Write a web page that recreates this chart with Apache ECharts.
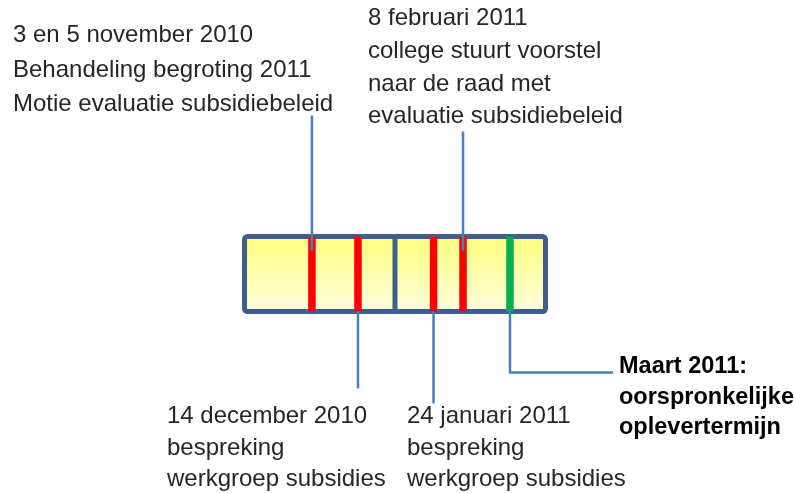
<!DOCTYPE html>
<html>
<head>
<meta charset="utf-8">
<title>Tijdlijn evaluatie subsidiebeleid</title>
<script src="https://cdn.jsdelivr.net/npm/echarts@6/dist/echarts.min.js"></script>
<style>
  html, body { margin: 0; padding: 0; background: #fff; }
  #main { width: 795px; height: 493px; }
</style>
</head>
<body>
<div id="main"></div>
<script>
// tijdlijn loopt van 0 tot 100 (links -> rechts in de balk)
var timelineRange = [0, 100];
var dividerPos = [50];

// gebeurtenissen op de tijdlijn
var eventPos = [22.4, 37.7, 62.8, 72.6, 88.2];
var eventDone = [true, true, true, true, false];   // rood = geweest, groen = gepland
var eventSide = ['top', 'bottom', 'bottom', 'top', 'bottom'];
var eventLabels = [
    ['3 en 5 november 2010', 'Behandeling begroting 2011', 'Motie evaluatie subsidiebeleid'],
    ['14 december 2010', 'bespreking', 'werkgroep subsidies'],
    ['24 januari 2011', 'bespreking', 'werkgroep subsidies'],
    ['8 februari 2011', 'college stuurt voorstel', 'naar de raad met', 'evaluatie subsidiebeleid'],
    ['Maart 2011:', 'oorspronkelijke', 'oplevertermijn']
];

// opmaak: lengte van de verbindingslijn en plaats van het label (pixels)
var layout = [
    { lead: 121, elbow: 0, lx: 13, ly: 18.5, lh: 34.5, bold: false },
    { lead: 77, elbow: 0, lx: 167, ly: 401, lh: 31.5, bold: false },
    { lead: 92, elbow: 0, lx: 407, ly: 401, lh: 31.5, bold: false },
    { lead: 105, elbow: 0, lx: 368, ly: 2.3, lh: 32.7, bold: false },
    { lead: 61, elbow: 103, lx: 619, ly: 351.5, lh: 30.5, bold: true }
];

var BORDER = '#3c5f8c';
var LEADER = '#4a7ebb';

var myChart = echarts.init(document.getElementById('main'));

function renderBox(params, api) {
    var p0 = api.coord([api.value(0), 0]);
    var p1 = api.coord([api.value(1), 1]);
    var children = [{
        type: 'rect',
        shape: { x: p0[0], y: p1[1], width: p1[0] - p0[0], height: p0[1] - p1[1], r: 3 },
        style: {
            fill: new echarts.graphic.LinearGradient(0, 0, 0, 1, [
                { offset: 0, color: '#ffff7a' },
                { offset: 1, color: '#ffffe0' }
            ]),
            stroke: BORDER,
            lineWidth: 5
        }
    }];
    dividerPos.forEach(function (d) {
        var x = api.coord([d, 0])[0];
        children.push({
            type: 'line',
            shape: { x1: x, y1: p1[1], x2: x, y2: p0[1] },
            style: { stroke: BORDER, lineWidth: 5 }
        });
    });
    return { type: 'group', children: children };
}

function renderEvent(params, api) {
    var i = params.dataIndex;
    var x = api.coord([api.value(0), 0])[0];
    var top = api.coord([0, 1])[1];
    var bottom = api.coord([0, 0])[1];
    var lay = layout[i];
    var pts;
    if (eventSide[i] === 'top') {
        pts = [[x, top - lay.lead], [x, top + 14]];
    } else {
        var yEnd = bottom + lay.lead;
        pts = [[x, bottom], [x, yEnd]];
        if (lay.elbow) pts.push([x + lay.elbow, yEnd]);
    }
    return {
        type: 'group',
        children: [
            {
                type: 'rect',
                shape: { x: x - 3.75, y: top, width: 7.5, height: bottom - top },
                style: { fill: eventDone[i] ? '#ff0000' : '#00b050' }
            },
            {
                type: 'polyline',
                shape: { points: pts },
                style: { stroke: LEADER, lineWidth: 2.5, fill: null }
            },
            {
                type: 'text',
                style: {
                    text: eventLabels[i].join('\n'),
                    x: lay.lx,
                    y: lay.ly,
                    align: 'left',
                    verticalAlign: 'top',
                    lineHeight: lay.lh,
                    fontFamily: 'Liberation Sans',
                    fontSize: lay.bold ? 23.5 : 24,
                    fontWeight: lay.bold ? 'bold' : 'normal',
                    fill: lay.bold ? '#000' : '#262626'
                }
            }
        ]
    };
}

var option = {
    backgroundColor: '#fff',
    animation: false,
    grid: { left: 244.5, right: 249.5, top: 236.5, bottom: 181.5 },
    xAxis: { type: 'value', min: timelineRange[0], max: timelineRange[1], show: false },
    yAxis: { type: 'value', min: 0, max: 1, show: false },
    series: [
        {
            type: 'custom',
            clip: false,
            silent: true,
            z: 1,
            renderItem: renderBox,
            data: [[timelineRange[0], timelineRange[1]]]
        },
        {
            type: 'custom',
            clip: false,
            silent: true,
            z: 2,
            renderItem: renderEvent,
            data: eventPos.map(function (p) { return [p, 0]; })
        }
    ]
};

myChart.setOption(option);
</script>
</body>
</html>
